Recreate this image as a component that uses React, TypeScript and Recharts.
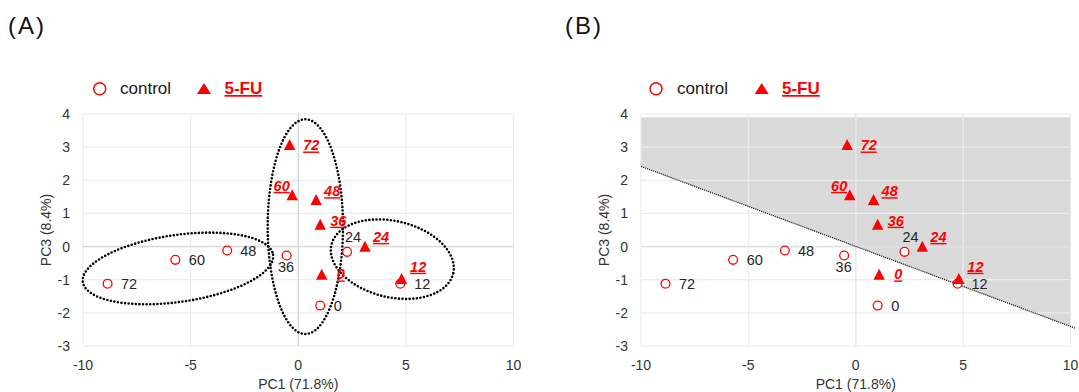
import React from "react";
import * as Recharts from "recharts";
import {
  Area,
  CartesianGrid,
  ComposedChart,
  Customized,
  ReferenceLine,
  Scatter,
  XAxis,
  YAxis,
} from "recharts";

const RED = "#ff0000";
const FONT = "Arial, 'Liberation Sans', Helvetica, sans-serif";

// sampling times (h)
const hours = ["0", "12", "24", "36", "48", "60", "72"];
const controlPC1 = [1.02, 4.74, 2.27, -0.54, -3.3, -5.71, -8.86];
const controlPC3 = [-1.78, -1.12, -0.16, -0.27, -0.12, -0.4, -1.12];
const fuPC1 = [1.09, 4.8, 3.1, 1.02, 0.83, -0.28, -0.4];
const fuPC3 = [-0.84, -0.97, 0.01, 0.67, 1.42, 1.56, 3.08];

const xTicks = [-10, -5, 0, 5, 10];
const yTicks = [-3, -2, -1, 0, 1, 2, 3, 4];

// shaded region of (B): lower / upper PC3 edge at each PC1 end
const shadeX = [-10, 10];
const shadeLow = [2.42, -2.41];
const shadeHigh = [3.9, 3.9];
const cutFrom = { x: -10, y: 2.42 };
const cutTo = { x: 10.25, y: -2.47 };

// grouping rings of (A): centre and two conjugate semi-axes in PC units
const rings = [
  { c: [-5.59, -0.66], u: [4.42, 0.41], v: [0.22, -1.0] },
  { c: [0.33, 0.6], u: [0, 3.24], v: [1.75, 0] },
  { c: [4.37, -0.38], u: [2.83, -0.43], v: [-0.4, -1.12] },
];

const controlRows = hours.map((t, i) => ({ t, x: controlPC1[i], y: controlPC3[i] }));
const fuRows = hours.map((t, i) => ({ t, x: fuPC1[i], y: fuPC3[i] }));
const shadeRows = shadeX.map((x, i) => ({ x, band: [shadeLow[i], shadeHigh[i]] }));

type Anchor = "start" | "middle" | "end";
// label offsets (px) from the marker centre
const controlLabelAt: Record<string, [number, number, Anchor]> = {
  "0": [13.5, 5, "start"],
  "12": [14, 5, "start"],
  "24": [6, -10, "middle"],
  "36": [-0.5, 16, "middle"],
  "48": [13, 5, "start"],
  "60": [13.5, 5, "start"],
  "72": [13.5, 5, "start"],
};
const fuLabelAt: Record<string, [number, number, Anchor]> = {
  "0": [15, 5, "start"],
  "12": [8.5, -7, "start"],
  "24": [8, -4.3, "start"],
  "36": [10, 1.3, "start"],
  "48": [8, -3.3, "start"],
  "60": [-2.5, -4, "end"],
  "72": [13.5, 6, "start"],
};

const ControlMark = (props: any) => {
  const { cx, cy, payload } = props;
  const [dx, dy, anchor] = controlLabelAt[payload.t];
  return (
    <g>
      <circle cx={cx} cy={cy} r={4.4} fill="#fff" stroke={RED} strokeWidth={1.3} />
      <text x={cx + dx} y={cy + dy} textAnchor={anchor} fontSize={14.5} fill="#262626" fontFamily={FONT}>
        {payload.t}
      </text>
    </g>
  );
};

const FuMark = (props: any) => {
  const { cx, cy, payload } = props;
  const [dx, dy, anchor] = fuLabelAt[payload.t];
  return (
    <g>
      <polygon points={`${cx},${cy - 5.6} ${cx + 5.7},${cy + 5.4} ${cx - 5.7},${cy + 5.4}`} fill={RED} />
      <text
        x={cx + dx}
        y={cy + dy}
        textAnchor={anchor}
        fontSize={14.5}
        fontWeight="bold"
        fontStyle="italic"
        textDecoration="underline"
        fill={RED}
        fontFamily={FONT}
      >
        {payload.t}
      </text>
    </g>
  );
};

const usePlot = (Recharts as any).usePlotArea ?? (Recharts as any).useOffset ?? (() => undefined);

function Rings() {
  const area = usePlot();
  if (!area) return null;
  const sx = area.width / 20;
  const sy = area.height / 7;
  const px = (x: number) => area.x + (x + 10) * sx;
  const py = (y: number) => area.y + (4 - y) * sy;
  return (
    <g>
      {rings.map((r, k) => {
        const pts: string[] = [];
        for (let i = 0; i <= 120; i++) {
          const a = (i / 120) * Math.PI * 2;
          const x = r.c[0] + r.u[0] * Math.cos(a) + r.v[0] * Math.sin(a);
          const y = r.c[1] + r.u[1] * Math.cos(a) + r.v[1] * Math.sin(a);
          pts.push(`${px(x).toFixed(2)},${py(y).toFixed(2)}`);
        }
        return (
          <path
            key={k}
            d={`M${pts.join("L")}Z`}
            fill="none"
            stroke="#000"
            strokeWidth={2.6}
            strokeLinecap="round"
            strokeDasharray="0 3.6"
          />
        );
      })}
    </g>
  );
}

function PanelLegend({ left, xs }: { left: number; xs: number[] }) {
  const [circleX, ctrlX, triX, fuX] = xs;
  return (
    <svg
      width={300}
      height={30}
      style={{ position: "absolute", left, top: 74 }}
      fontFamily={FONT}
    >
      <circle cx={circleX} cy={14.7} r={6} fill="#fff" stroke={RED} strokeWidth={1.5} />
      <text x={ctrlX} y={20} fontSize={17} fill="#1a1a1a">
        control
      </text>
      <polygon points={`${triX},9 ${triX + 7},20 ${triX - 7},20`} fill={RED} />
      <text x={fuX} y={20} fontSize={17} fontWeight="bold" fill={RED} textDecoration="underline">
        5-FU
      </text>
    </svg>
  );
}

function Panel({ shaded, width, marginLeft, yWidth, marginRight }: any) {
  const tick = { fontSize: 14, fill: "#333", fontFamily: FONT };
  return (
    <ComposedChart
      width={width}
      height={392}
      data={shadeRows}
      margin={{ top: 114, right: marginRight, bottom: 0, left: marginLeft }}
    >
      {shaded && (
        <Area
          type="linear"
          dataKey="band"
          fill="#d9d9d9"
          fillOpacity={1}
          stroke="none"
          isAnimationActive={false}
          activeDot={false}
          zIndex={-200}
        />
      )}
      <CartesianGrid stroke="#ececec" strokeWidth={1.2} zIndex={-100} />
      <ReferenceLine x={0} stroke={shaded ? "#e6e6e6" : "#d9d9d9"} strokeWidth={1.3} zIndex={-90} />
      <ReferenceLine y={0} stroke={shaded ? "#e0e0e0" : "#d9d9d9"} strokeWidth={1.5} zIndex={-90} />
      <XAxis
        type="number"
        dataKey="x"
        domain={[-10, 10]}
        ticks={xTicks}
        allowDataOverflow
        axisLine={false}
        tickLine={false}
        tickSize={6}
        tickMargin={8}
        height={46}
        tick={tick}
        label={{
          value: "PC1 (71.8%)",
          position: "insideBottom",
          offset: 3,
          fontSize: 14,
          fill: "#333",
          fontFamily: FONT,
        }}
      />
      <YAxis
        type="number"
        domain={[-3, 4]}
        ticks={yTicks}
        allowDataOverflow
        axisLine={false}
        tickLine={false}
        tickSize={6}
        tickMargin={7}
        width={yWidth}
        tick={tick}
        label={{
          value: "PC3 (8.4%)",
          angle: -90,
          position: "center",
          fontSize: 14,
          fill: "#333",
          fontFamily: FONT,
        }}
      />
      {shaded && (
        <ReferenceLine
          segment={[cutFrom, cutTo]}
          ifOverflow="visible"
          stroke="#222"
          strokeWidth={1.3}
          strokeDasharray="1.2 0.9"
        />
      )}
      {!shaded && <Customized component={<Rings />} />}
      <Scatter data={controlRows} dataKey="y" shape={<ControlMark />} isAnimationActive={false} />
      <Scatter data={fuRows} dataKey="y" shape={<FuMark />} isAnimationActive={false} />
    </ComposedChart>
  );
}

export default function App() {
  return (
    <div
      style={{
        position: "absolute",
        left: 0,
        top: 0,
        width: 1079,
        height: 392,
        background: "#fff",
        overflow: "hidden",
        fontFamily: FONT,
      }}
    >
      <div style={{ position: "absolute", left: 0, top: 0 }}>
        <Panel shaded={false} width={540} marginLeft={10} yWidth={73} marginRight={26.5} />
      </div>
      <div style={{ position: "absolute", left: 560, top: 0 }}>
        <Panel shaded width={519} marginLeft={7} yWidth={74} marginRight={8.5} />
      </div>
      <div style={{ position: "absolute", left: 8, top: 12, fontSize: 24, letterSpacing: 2, color: "#111" }}>
        (A)
      </div>
      <div style={{ position: "absolute", left: 565, top: 12, fontSize: 24, letterSpacing: 2, color: "#111" }}>
        (B)
      </div>
      <PanelLegend left={0} xs={[99.7, 120, 204, 224.5]} />
      <PanelLegend left={560} xs={[96, 117, 201.7, 222]} />
    </div>
  );
}
